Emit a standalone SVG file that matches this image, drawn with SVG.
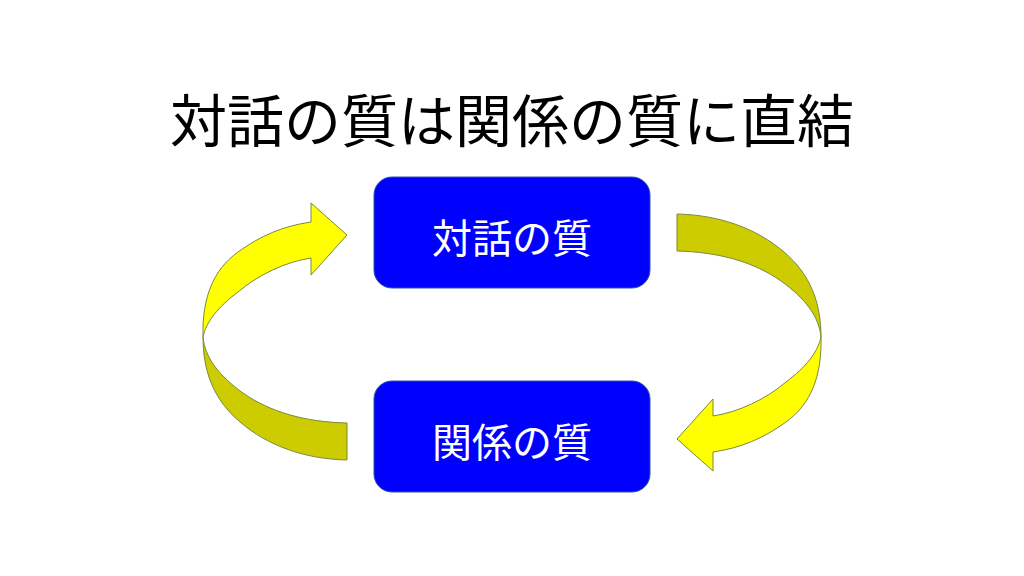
<svg xmlns="http://www.w3.org/2000/svg" width="1024" height="576" viewBox="0 0 1024 576">
<style>
.box{fill:#0000FF;stroke:#2F52A0;stroke-width:1}
.lbl{font-family:"Noto Sans CJK JP","Noto Sans CJK SC",sans-serif;fill:#FFFFFF;font-size:40px;text-anchor:middle;dominant-baseline:central}
.title{font-family:"Noto Sans CJK JP","Noto Sans CJK SC",sans-serif;fill:#000000;font-size:57px;text-anchor:middle;dominant-baseline:central}
.bright{fill:#FFFF00;stroke:#7A8A3A;stroke-width:1}
.dark{fill:#CCCC00;stroke:#7A8A3A;stroke-width:1}
</style>
<defs>
<g id="curved">
<path class="dark" d="M203 337 C203 372 214 400 240 422 C268 446 305 459 347 460 L347 423 C305 422 270 412 243 393 C218 375 205 357 203 337 Z"/>
<path class="bright" d="M203 337 C202 298 213 270 238 252 C260 236 283 226 311 222 L311 203 L347 235 L311 275 L311 258 C285 262 258 275 238 292 C218 307 206 322 203 337 Z"/>
</g>
</defs>
<text class="title" x="512" y="117">対話の質は関係の質に直結</text>
<g id="connectors">
<use href="#curved"/>
<use href="#curved" transform="rotate(180 512 337)"/>
</g>
<g id="node-dialogue">
<rect class="box" x="374" y="177" width="276" height="111" rx="18"/>
<text class="lbl" x="512" y="236">対話の質</text>
</g>
<g id="node-relation">
<rect class="box" x="374" y="381" width="276" height="111" rx="18"/>
<text class="lbl" x="512" y="440">関係の質</text>
</g>
</svg>
